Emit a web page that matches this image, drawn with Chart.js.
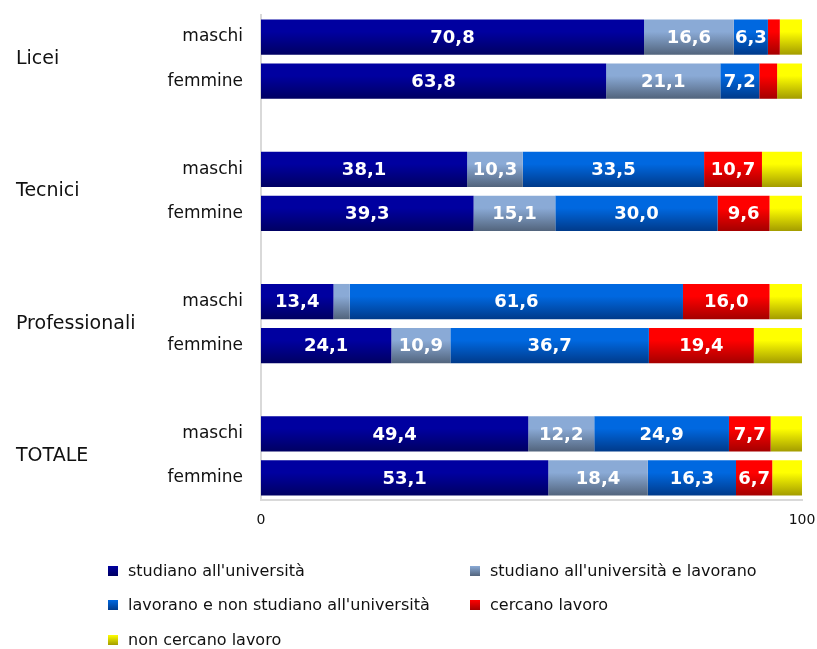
<!DOCTYPE html>
<html>
<head>
<meta charset="utf-8">
<script src="https://cdn.jsdelivr.net/npm/chart.js@4/dist/chart.umd.min.js"></script>
<style>
  html, body { margin: 0; padding: 0; background: #fff; }
  #wrap { position: relative; width: 817px; height: 649px; }
  #legend { position: absolute; left: 0; top: 0; width: 817px; height: 649px; pointer-events: none;
            font-family: "DejaVu Sans", sans-serif; font-size: 16px; color: #111; }
  .li { position: absolute; white-space: nowrap; line-height: 20px; }
  .mk { display: inline-block; width: 10px; height: 10px; margin-right: 10px; vertical-align: 0px; }
</style>
</head>
<body>
<div id="wrap">
  <canvas id="c" width="817" height="649"></canvas>
  <div id="legend"></div>
</div>
<script>
// ---- data ----
const groups = ["Licei", "Tecnici", "Professionali", "TOTALE"];
const categories = ["maschi", "femmine", "", "maschi", "femmine", "", "maschi", "femmine", "", "maschi", "femmine"];
const seriesNames = ["studiano all'università", "studiano all'università e lavorano",
  "lavorano e non studiano all'università", "cercano lavoro", "non cercano lavoro"];
const studiano      = [70.8, 63.8, null, 38.1, 39.3, null, 13.4, 24.1, null, 49.4, 53.1];
const studianoLav   = [16.6, 21.1, null, 10.3, 15.1, null,  3.0, 10.9, null, 12.2, 18.4];
const lavorano      = [ 6.3,  7.2, null, 33.5, 30.0, null, 61.6, 36.7, null, 24.9, 16.3];
const cercano       = [ 2.2,  3.3, null, 10.7,  9.6, null, 16.0, 19.4, null,  7.7,  6.7];
const nonCercano    = [ 4.1,  4.6, null,  7.4,  6.0, null,  6.0,  8.9, null,  5.8,  5.5];
const xTicks = [0, 100];

const series = [studiano, studianoLav, lavorano, cercano, nonCercano];
const colorsTop = ["#0000a0", "#8aaad6", "#0068e0", "#ff0000", "#ffff00"];
const colorsBot = ["#000062", "#52647c", "#003a8a", "#a40000", "#a39c00"];

function gradFor(i) {
  return function(ctx) {
    const chart = ctx.chart;
    if (!chart.chartArea || ctx.dataIndex === undefined) return colorsTop[i];
    const y = chart.scales.y;
    const yc = y.getPixelForValue(ctx.dataIndex);
    const cat = Math.abs(y.getPixelForValue(1) - y.getPixelForValue(0));
    const half = cat * 0.4;
    const g = chart.ctx.createLinearGradient(0, yc - half, 0, yc + half);
    g.addColorStop(0, colorsTop[i]);
    g.addColorStop(0.35, colorsTop[i]);
    g.addColorStop(1, colorsBot[i]);
    return g;
  };
}

const fmt = v => v.toFixed(1).replace('.', ',');

const labelPlugin = {
  id: 'valueLabels',
  afterDatasetsDraw(chart) {
    const c = chart.ctx;
    c.save();
    c.font = 'bold 18px "DejaVu Sans", sans-serif';
    c.fillStyle = '#ffffff';
    c.textAlign = 'center';
    c.textBaseline = 'middle';
    for (let d = 0; d < 4; d++) {
      const meta = chart.getDatasetMeta(d);
      meta.data.forEach((el, i) => {
        const v = chart.data.datasets[d].data[i];
        if (v == null || v < 5) return;
        const p = el.getCenterPoint();
        c.fillText(fmt(v), p.x, p.y + 1);
      });
    }
    c.restore();
  }
};

const groupPlugin = {
  id: 'groupLabels',
  afterDraw(chart) {
    const c = chart.ctx;
    const y = chart.scales.y;
    c.save();
    c.font = '19px "DejaVu Sans", sans-serif';
    c.fillStyle = '#111';
    c.textAlign = 'left';
    c.textBaseline = 'middle';
    groups.forEach((g, k) => {
      const yc = (y.getPixelForValue(k * 3) + y.getPixelForValue(k * 3 + 1)) / 2;
      c.fillText(g, 16, yc);
    });
    c.restore();
  }
};

new Chart(document.getElementById('c'), {
  type: 'bar',
  data: {
    labels: categories,
    datasets: series.map((s, i) => ({
      label: seriesNames[i],
      data: s,
      backgroundColor: gradFor(i),
      borderWidth: 0,
      barPercentage: 0.8,
      categoryPercentage: 1.0
    }))
  },
  options: {
    indexAxis: 'y',
    responsive: false,
    animation: false,
    layout: { padding: { top: 15, right: 15, bottom: 119, left: 0 } },
    plugins: { legend: { display: false }, tooltip: { enabled: false } },
    scales: {
      x: {
        stacked: true, min: 0, max: 100,
        afterBuildTicks: s => { s.ticks = xTicks.map(v => ({ value: v })); },
        afterFit: s => { s.height = 30; s.paddingLeft = 0; s.paddingRight = 0; },
        grid: { display: false, drawTicks: false },
        border: { display: true, color: '#d9d9d9', width: 2 },
        ticks: { padding: 12, color: '#111', font: { family: 'DejaVu Sans', size: 14 }, maxRotation: 0 }
      },
      y: {
        stacked: true,
        afterFit: s => { s.width = 261; s.paddingTop = 0; s.paddingBottom = 0; },
        grid: { display: false, drawTicks: false },
        border: { display: true, color: '#d9d9d9', width: 2 },
        ticks: { padding: 18, color: '#111', font: { family: 'DejaVu Sans', size: 17 }, autoSkip: false }
      }
    }
  },
  plugins: [labelPlugin, groupPlugin]
});

// HTML legend
const legendPos = [[108, 571], [470, 571], [108, 605], [470, 605], [108, 640]];
const lg = document.getElementById('legend');
seriesNames.forEach((n, i) => {
  const d = document.createElement('div');
  d.className = 'li';
  d.style.left = legendPos[i][0] + 'px';
  d.style.top = (legendPos[i][1] - 10) + 'px';
  const m = document.createElement('span');
  m.className = 'mk';
  m.style.background = 'linear-gradient(' + colorsTop[i] + ',' + colorsBot[i] + ')';
  d.appendChild(m);
  d.appendChild(document.createTextNode(n));
  lg.appendChild(d);
});
</script>
</body>
</html>
